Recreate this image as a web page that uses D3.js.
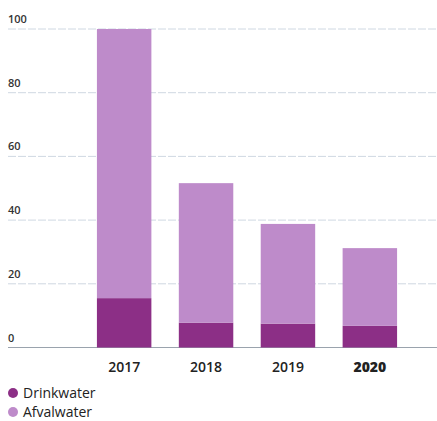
<!DOCTYPE html>
<html><head><meta charset="utf-8">
<script src="https://cdn.jsdelivr.net/npm/d3@7"></script>
<style>body{margin:0;background:#fff}svg{display:block}</style>
</head><body>
<script>
const years = ["2017", "2018", "2019", "2020"];
const drinkwater = [15.5, 7.8, 7.5, 6.8];
const afvalwater = [84.5, 43.8, 31.3, 24.4];
const yTicks = [0, 20, 40, 60, 80, 100];
const seriesNames = ["Drinkwater", "Afvalwater"];
const colors = ["#8c2f86", "#be8bca"];

const W = 437, H = 421;
const svg = d3.select("body").append("svg").attr("width", W).attr("height", H);
const font = "'Open Sans', Lato, sans-serif";

const y = d3.scaleLinear().domain([0, 100]).range([347.5, 29]);
const x = d3.scaleBand().domain(years).range([83, 411]).paddingInner(0.335).paddingOuter(0.17);

// gridlines
const grid = svg.append("g");
yTicks.forEach(t => {
  grid.append("line").attr("x1", 8).attr("x2", 437)
    .attr("y1", y(t)).attr("y2", y(t))
    .attr("stroke", t === 0 ? "#9aa3ad" : "#cfd8e2")
    .attr("stroke-width", t === 0 ? 1.2 : 1)
    .attr("stroke-dasharray", t === 0 ? null : "8,2");
  grid.append("text").attr("x", 8).attr("y", y(t) - 6)
    .attr("font-family", font).attr("font-size", 11).attr("font-weight", 600).attr("fill", "#333")
    .text(t);
});

const rows = years.map((yr, i) => ({year: yr, Drinkwater: drinkwater[i], Afvalwater: afvalwater[i]}));
const stack = d3.stack().keys(seriesNames)(rows);
svg.append("g").selectAll("g").data(stack).join("g")
  .attr("fill", (d, i) => colors[i])
  .selectAll("rect").data(d => d).join("rect")
  .attr("x", d => x(d.data.year))
  .attr("width", x.bandwidth())
  .attr("y", d => y(d[1]))
  .attr("height", d => y(d[0]) - y(d[1]));

// x labels
svg.append("g").selectAll("text").data(years).join("text")
  .attr("x", d => x(d) + x.bandwidth() / 2)
  .attr("y", 372)
  .attr("text-anchor", "middle")
  .attr("font-family", font).attr("font-size", 14)
  .attr("font-weight", d => d === "2020" ? 800 : 600)
  .attr("fill", "#222")
  .text(d => d);

// legend
const leg = svg.append("g");
seriesNames.forEach((n, i) => {
  leg.append("circle").attr("cx", 13).attr("cy", 393 + i * 19).attr("r", 5).attr("fill", colors[i]);
  leg.append("text").attr("x", 23).attr("y", 398 + i * 19)
    .attr("font-family", font).attr("font-size", 14).attr("fill", "#222").text(n);
});
</script>
</body></html>
